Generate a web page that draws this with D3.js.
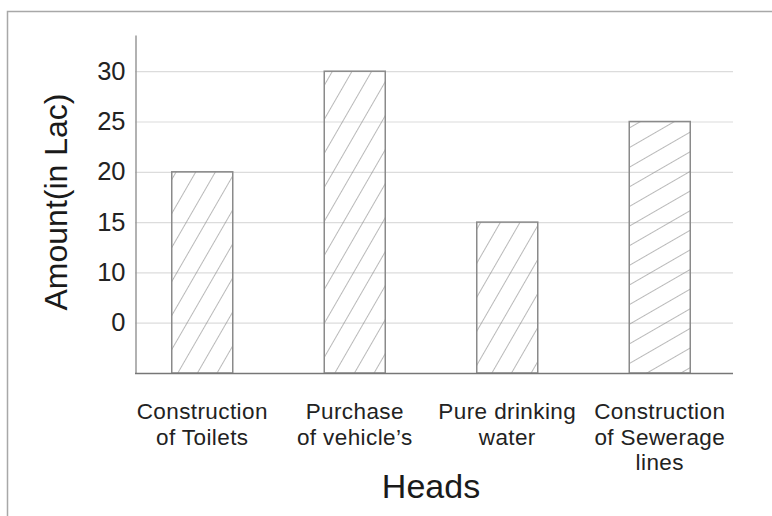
<!DOCTYPE html>
<html>
<head>
<meta charset="utf-8">
<script src="https://cdn.jsdelivr.net/npm/d3@7"></script>
<style>
body { margin: 0; background: #fff; }
svg { display: block; font-family: "Liberation Sans", Arial, sans-serif; }
</style>
</head>
<body>
<div id="chart"></div>
<script>
// chart data
var categories = ["Construction\nof Toilets", "Purchase\nof vehicle\u2019s", "Pure drinking\nwater", "Construction\nof Sewerage\nlines"];
var amounts = [20, 30, 15, 25];
var hatchKind = ["steep", "steep", "steep", "flat"];
var tickValues = [5, 10, 15, 20, 25, 30];
var tickLabels = ["0", "10", "15", "20", "25", "30"];

var W = 772, H = 516;
var plot = {left: 135, right: 733, top: 35, bottom: 373};

var svg = d3.select("#chart").append("svg")
    .attr("width", W).attr("height", H);

// hatch patterns
var defs = svg.append("defs");
defs.append("pattern")
    .attr("id", "hatch-steep")
    .attr("patternUnits", "userSpaceOnUse")
    .attr("width", 17).attr("height", 17)
    .attr("patternTransform", "rotate(30)")
  .append("line")
    .attr("x1", 0).attr("y1", 0).attr("x2", 0).attr("y2", 17)
    .attr("stroke", "#8a8a8a").attr("stroke-width", 1.2);
defs.append("pattern")
    .attr("id", "hatch-flat")
    .attr("patternUnits", "userSpaceOnUse")
    .attr("width", 17).attr("height", 17)
    .attr("patternTransform", "rotate(-30)")
  .append("line")
    .attr("x1", 0).attr("y1", 0).attr("x2", 17).attr("y2", 0)
    .attr("stroke", "#8a8a8a").attr("stroke-width", 1.2);

// outer frame (top and left edges only visible)
svg.append("path")
    .attr("d", "M7.5," + H + "V11.5H" + W)
    .attr("fill", "none")
    .attr("stroke", "#a8a8a8")
    .attr("stroke-width", 1.5);

var x = d3.scaleBand()
    .domain(categories)
    .range([126, 736])
    .paddingInner(0.6)
    .paddingOuter(0.3);

var y = d3.scaleLinear()
    .domain([0, 33.6])
    .range([plot.bottom, plot.top]);

// grid lines
svg.append("g")
    .selectAll("line")
    .data(tickValues)
    .join("line")
    .attr("x1", plot.left).attr("x2", plot.right)
    .attr("y1", function(d) { return y(d) + 0.5; })
    .attr("y2", function(d) { return y(d) + 0.5; })
    .attr("stroke", "#dcdcdc")
    .attr("stroke-width", 1.2);

// bars
svg.append("g")
    .selectAll("rect")
    .data(amounts)
    .join("rect")
    .attr("x", function(d, i) { return x(categories[i]); })
    .attr("y", function(d) { return y(d); })
    .attr("width", x.bandwidth())
    .attr("height", function(d) { return y(0) - y(d); })
    .attr("fill", function(d, i) { return "url(#hatch-" + hatchKind[i] + ")"; })
    .attr("stroke", "#8a8a8a")
    .attr("stroke-width", 1.5);

// y axis
var yAxis = d3.axisLeft(y)
    .tickValues(tickValues)
    .tickFormat(function(d, i) { return tickLabels[i]; })
    .tickSize(0)
    .tickPadding(10)
    .tickSizeOuter(0);

var gy = svg.append("g")
    .attr("transform", "translate(" + (plot.left + 0.5) + ",0)")
    .call(yAxis);
gy.select(".domain").attr("stroke", "#999").attr("stroke-width", 1.5);
gy.selectAll("text")
    .attr("font-size", 25.5)
    .attr("fill", "#222")
    .attr("font-family", "Liberation Sans, Arial, sans-serif");

// x axis line
svg.append("line")
    .attr("x1", plot.left).attr("x2", plot.right)
    .attr("y1", plot.bottom + 0.5).attr("y2", plot.bottom + 0.5)
    .attr("stroke", "#777")
    .attr("stroke-width", 1.5);

// x category labels
var xAxis = d3.axisBottom(x).tickSize(0).tickPadding(0);
var gx = svg.append("g")
    .attr("transform", "translate(0," + plot.bottom + ")")
    .call(xAxis);
gx.select(".domain").remove();
gx.selectAll(".tick text").each(function(d) {
    var t = d3.select(this);
    var lines = d.split("\n");
    t.text(null)
        .attr("y", 0)
        .attr("dy", null)
        .attr("font-size", 22.5)
        .attr("fill", "#222")
        .attr("font-family", "Liberation Sans, Arial, sans-serif")
        .attr("letter-spacing", 0.4);
    lines.forEach(function(line, k) {
        t.append("tspan")
            .attr("x", 0)
            .attr("y", 46 + k * 25.5)
            .text(line);
    });
});

// axis titles
svg.append("text")
    .attr("transform", "translate(67,202) rotate(-90)")
    .attr("text-anchor", "middle")
    .attr("font-size", 32)
    .attr("fill", "#1a1a1a")
    .text("Amount(in Lac)");

svg.append("text")
    .attr("x", 431)
    .attr("y", 498)
    .attr("text-anchor", "middle")
    .attr("font-size", 34)
    .attr("fill", "#1a1a1a")
    .text("Heads");
</script>
</body>
</html>
